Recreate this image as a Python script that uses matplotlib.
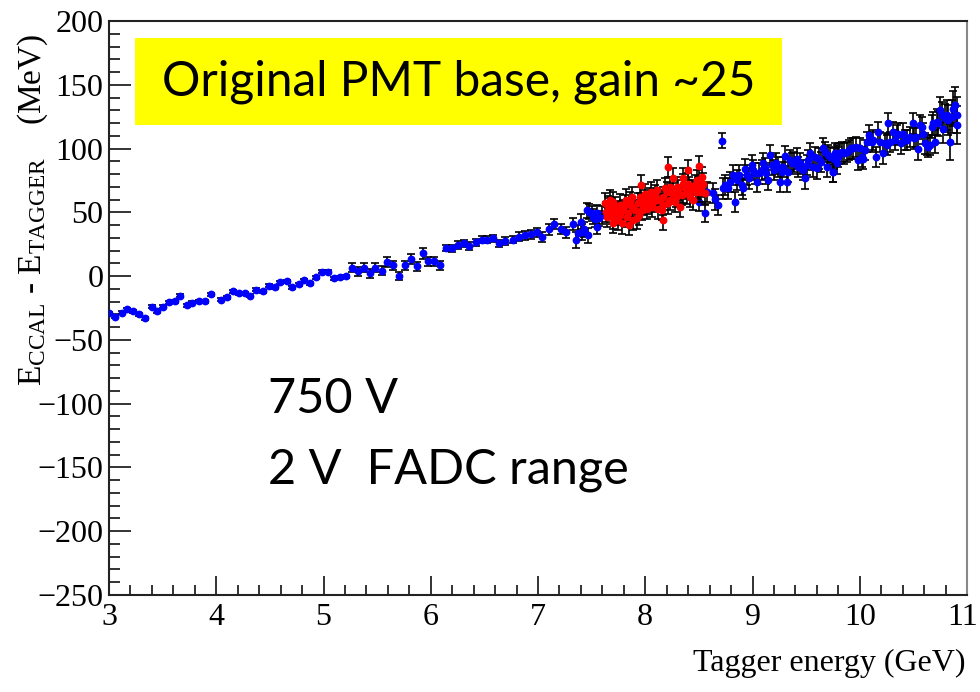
import numpy as np
import matplotlib.pyplot as plt
from matplotlib.patches import Rectangle
from matplotlib.ticker import MultipleLocator, FuncFormatter

plt.rcParams['mathtext.fontset'] = 'custom'
plt.rcParams['mathtext.rm'] = 'Liberation Serif'
plt.rcParams['mathtext.it'] = 'Liberation Serif:italic'

# --- low-energy scan (blue, small errors) ---
blue_low_e = [3.000, 3.056, 3.118, 3.165, 3.227, 3.283, 3.336, 3.398, 3.451, 3.507,
              3.556, 3.619, 3.665, 3.724, 3.777, 3.839, 3.898, 3.948, 4.047, 4.097,
              4.159, 4.209, 4.265, 4.318, 4.374, 4.436, 4.489, 4.548, 4.597, 4.657,
              4.706, 4.768, 4.818, 4.874, 4.930, 4.986, 5.045, 5.101, 5.157, 5.207,
              5.269, 5.322, 5.378, 5.430, 5.480, 5.542, 5.589, 5.651, 5.704, 5.760,
              5.813, 5.872, 5.928, 5.977, 6.033, 6.089, 6.142, 6.198, 6.251, 6.310,
              6.360, 6.422, 6.475, 6.528, 6.584, 6.640, 6.692, 6.764, 6.820, 6.882,
              6.932, 6.988, 7.040, 7.100, 7.152, 7.212, 7.261, 7.324]
blue_low_v = [-29.3, -31.9, -28.7, -26.1, -27.4, -29.8, -33.2, -24.0, -27.4, -24.0,
              -20.6, -19.6, -15.4, -23.0, -20.9, -19.6, -19.6, -14.4, -18.5, -16.5,
              -11.8, -13.3, -13.3, -15.4, -10.7, -12.0, -7.6, -8.9, -5.0, -3.9,
              -8.9, -6.5, -3.4, -5.5, -0.8, 3.4, 3.4, -1.8, -1.0, 0.0,
              6.5, 3.7, 6.5, 2.1, 6.5, 4.2, 11.2, 8.6, 0.0, 8.6,
              13.3, 7.6, 17.8, 11.8, 11.8, 8.6, 22.2, 21.7, 24.6, 25.6,
              23.8, 26.4, 28.7, 28.7, 29.5, 25.6, 27.7, 28.7, 30.8, 32.1,
              32.9, 34.2, 30.8, 36.6, 40.8, 37.1, 34.2, 40.8]
blue_low_err = [1.2, 1.2, 1.2, 1.2, 1.2, 1.2, 1.2, 1.2, 1.2, 1.2,
                1.2, 1.2, 1.2, 1.2, 1.2, 1.2, 1.2, 1.2, 1.2, 1.2,
                1.2, 1.2, 1.2, 1.2, 1.2, 1.2, 1.2, 1.2, 1.2, 1.2,
                1.2, 1.2, 1.2, 1.2, 1.2, 1.2, 1.2, 1.2, 1.2, 1.2,
                3.5, 3.5, 3.5, 3.5, 3.5, 3.5, 4.0, 3.5, 3.0, 3.5,
                4.0, 3.5, 4.0, 3.5, 3.5, 3.5, 2.5, 3.0, 3.0, 3.0,
                3.0, 3.0, 3.0, 3.0, 3.0, 3.0, 3.0, 3.0, 3.5, 3.5,
                3.5, 3.5, 4.0, 4.0, 4.0, 4.0, 4.0, 5.0]

# --- dense region (blue) ---
blue_mid_e = [7.354, 7.376, 7.398, 7.407, 7.429, 7.454, 7.469, 7.479, 7.500, 7.516,
              7.531, 7.547, 7.553, 7.572, 7.600, 7.750, 7.950, 8.150, 8.350, 8.500]
blue_mid_v = [28.2, 34.0, 42.6, 34.7, 36.6, 51.7, 32.1, 50.4, 49.1, 46.5,
              44.4, 49.6, 38.7, 45.2, 48.0, 52.0, 58.0, 60.0, 64.0, 58.0]
blue_mid_err = [6, 6, 6, 6, 6, 6, 6, 6, 6, 6, 6, 6, 6, 6, 7, 7, 7, 7, 7, 7]

blue_hi_e = [8.557, 8.573, 8.629, 8.650, 8.682, 8.713, 8.728, 8.744, 8.775, 8.790,
             8.821, 8.837, 8.859, 8.877, 8.899, 8.915, 8.930, 8.946, 8.970, 8.992,
             9.008, 9.023, 9.045, 9.064, 9.085, 9.101, 9.117, 9.126, 9.148, 9.163,
             9.179, 9.200, 9.219, 9.241, 9.256, 9.272, 9.288, 9.303, 9.319, 9.334,
             9.350, 9.365, 9.387, 9.412, 9.427, 9.443, 9.468, 9.490, 9.505, 9.521,
             9.536, 9.561, 9.583, 9.598, 9.623, 9.636, 9.660, 9.676, 9.692, 9.707,
             9.723, 9.748, 9.769, 9.785, 9.800]
blue_hi_v = [49.1, 66.1, 65.3, 60.1, 55.7, 106.1, 68.7, 71.3, 68.7, 74.0,
             79.2, 58.3, 75.3, 79.2, 71.3, 68.7, 83.6, 79.2, 76.6, 87.0,
             83.1, 80.5, 74.0, 80.5, 83.1, 88.3, 84.4, 80.5, 75.3, 94.9,
             87.0, 83.1, 88.3, 85.7, 74.0, 81.8, 85.7, 94.1, 74.0, 81.8,
             90.9, 88.3, 89.6, 92.2, 85.7, 88.3, 83.1, 76.6, 87.0, 90.9,
             96.2, 85.7, 93.6, 84.4, 92.2, 89.6, 100.1, 97.5, 85.7, 94.9,
             93.6, 81.8, 96.2, 88.3, 93.6]
blue_hi_err = [7, 8, 8, 8, 8, 6, 8, 8, 8, 8,
               8, 8, 8, 8, 8, 8, 8, 8, 8, 8,
               8, 8, 8, 8, 8, 8, 8, 8, 8, 8,
               8, 8, 8, 8, 8, 8, 8, 8, 8, 8,
               8, 8, 8, 8, 8, 8, 8, 8, 8, 8,
               8, 8, 8, 8, 8, 8, 8, 8, 8, 8,
               8, 8, 8, 8, 8]

blue_top_e = [9.747, 9.760, 9.785, 9.810, 9.831, 9.853, 9.878, 9.903, 9.915, 9.940,
              9.965, 9.987, 10.002, 10.018, 10.033, 10.049, 10.071, 10.089, 10.111, 10.127,
              10.151, 10.173, 10.189, 10.214, 10.235, 10.251, 10.267, 10.282, 10.313, 10.329,
              10.344, 10.360, 10.382, 10.400, 10.422, 10.444, 10.468, 10.493, 10.506, 10.524,
              10.546, 10.562, 10.577, 10.593, 10.608, 10.624, 10.639, 10.655, 10.670, 10.686,
              10.702, 10.717, 10.733, 10.748, 10.764, 10.779, 10.795, 10.810, 10.826, 10.841,
              10.857, 10.873, 10.888, 10.904, 10.910]
blue_top_v = [81.8, 92.2, 94.8, 96.2, 97.5, 96.2, 97.5, 98.8, 100.1, 100.1,
              101.4, 90.9, 100.1, 93.5, 92.2, 98.8, 105.3, 110.5, 105.3, 106.6,
              93.5, 113.1, 105.3, 96.2, 104.0, 102.7, 119.7, 105.3, 113.1, 106.6,
              110.5, 111.8, 104.0, 111.8, 106.6, 106.6, 109.2, 119.7, 107.9, 109.2,
              99.3, 118.4, 117.1, 111.8, 104.0, 102.7, 101.4, 102.7, 117.1, 119.7,
              105.3, 121.0, 119.7, 130.1, 126.2, 115.7, 123.6, 126.2, 122.3, 105.3,
              124.9, 131.4, 134.0, 118.4, 126.2]
blue_top_err = [8, 8, 8, 8, 8, 8, 8, 8, 8, 8,
                8, 8, 8, 8, 8, 8, 8, 8, 8, 8,
                8, 8, 8, 8, 8, 8, 8, 8, 8, 8,
                8, 8, 8, 8, 8, 8, 8, 8, 8, 8,
                8, 8, 8, 8, 8, 8, 8, 8, 9, 9,
                9, 10, 10, 10, 10, 11, 11, 12, 12, 14,
                13, 14, 14, 15, 14]

# --- red runs ---
red_e = [7.625, 7.634, 7.646, 7.665, 7.671, 7.687, 7.702, 7.718, 7.734, 7.749,
         7.765, 7.780, 7.796, 7.811, 7.827, 7.842, 7.858, 7.873, 7.889, 7.905,
         7.920, 7.936, 7.951, 7.960, 7.967, 7.982, 7.998, 8.013, 8.029, 8.044,
         8.060, 8.075, 8.091, 8.106, 8.122, 8.138, 8.153, 8.162, 8.169, 8.184,
         8.200, 8.215, 8.231, 8.246, 8.262, 8.277, 8.293, 8.309, 8.324, 8.340,
         8.355, 8.371, 8.386, 8.402, 8.417, 8.433, 8.448, 8.464, 8.479, 8.495,
         8.511, 8.526, 8.541, 8.557, 7.650, 7.700, 7.760, 7.820, 7.880, 7.940,
         8.000, 8.050, 8.110, 8.170, 8.230, 8.290, 8.350, 8.410, 8.470, 8.520,
         7.700, 7.850, 8.212, 8.396, 8.500]
red_v = [57.0, 50.4, 46.5, 53.0, 59.6, 49.1, 45.2, 54.4, 50.4, 43.9,
         47.8, 41.3, 51.7, 55.7, 46.5, 49.1, 58.3, 54.4, 43.9, 51.7,
         45.2, 57.0, 62.2, 71.3, 51.7, 55.7, 59.6, 53.0, 57.0, 60.9,
         54.4, 58.3, 63.5, 67.4, 53.0, 59.6, 51.7, 43.9, 62.2, 68.7,
         66.1, 57.0, 59.6, 64.8, 76.6, 58.3, 70.0, 67.4, 54.4, 63.5,
         76.6, 68.7, 64.8, 72.6, 62.2, 67.4, 59.6, 71.3, 75.3, 68.7,
         66.1, 77.9, 72.6, 64.8, 55.0, 58.0, 56.0, 60.0, 62.0, 48.0,
         64.0, 66.0, 60.0, 56.0, 70.0, 62.0, 72.0, 70.0, 66.0, 70.0,
         42.0, 40.0, 85.7, 83.0, 86.0]
red_err = [8, 8, 8, 8, 8, 8, 8, 8, 8, 8,
           8, 8, 8, 8, 8, 8, 8, 8, 8, 8,
           8, 8, 8, 8, 8, 8, 8, 8, 8, 8,
           8, 8, 8, 8, 8, 8, 8, 8, 8, 8,
           8, 8, 8, 8, 8, 8, 8, 8, 8, 8,
           8, 8, 8, 8, 8, 8, 8, 8, 8, 8,
           8, 8, 8, 8, 8, 8, 8, 8, 8, 8,
           8, 8, 8, 8, 8, 8, 8, 8, 8, 8,
           8, 8, 8, 8, 8]

fig = plt.figure(figsize=(9.8, 6.92), dpi=100)
ax = fig.add_axes([109 / 980, 97 / 692, 858 / 980, 574 / 692])

ebkw = dict(fmt='o', ms=4.6, ecolor='black', elinewidth=1.2, capsize=3, capthick=1.2)
for e, v, err in [(blue_low_e, blue_low_v, blue_low_err),
                  (blue_mid_e, blue_mid_v, blue_mid_err),
                  (blue_hi_e, blue_hi_v, blue_hi_err),
                  (blue_top_e, blue_top_v, blue_top_err)]:
    ax.errorbar(e, v, yerr=err, color='#0000ff', mec='#0000ff', zorder=3, **ebkw)
ax.errorbar(red_e, red_v, yerr=red_err, color='#ff0000', mec='#ff0000', zorder=4, **ebkw)

ax.set_xlim(3, 11)
ax.set_ylim(-250, 200)
ax.xaxis.set_major_locator(MultipleLocator(1))
ax.xaxis.set_minor_locator(MultipleLocator(0.2))
# the "11" at the right edge is drawn separately so it stays on the canvas
ax.xaxis.set_major_formatter(FuncFormatter(lambda x, pos: '' if x > 10.5 else f'{x:g}'))
ax.yaxis.set_major_locator(MultipleLocator(50))
ax.yaxis.set_minor_locator(MultipleLocator(10))
ax.tick_params(which='both', direction='in', top=False, right=False,
               color='#333333', width=1.4, labelsize=23)
ax.tick_params(axis='y', which='major', length=16, pad=4)
ax.tick_params(axis='y', which='minor', length=7.7)
ax.tick_params(axis='x', which='major', length=13.7, pad=6)
ax.tick_params(axis='x', which='minor', length=7.2)
for lab in ax.get_xticklabels() + ax.get_yticklabels():
    lab.set_fontfamily('Liberation Serif')
fig.text(963 / 980, 1 - 603 / 692, '11', ha='center', va='top',
         fontsize=23, fontfamily='Liberation Serif')
for side in ['left', 'bottom', 'top']:
    ax.spines[side].set_linewidth(1.5)
    ax.spines[side].set_color('#222222')
ax.spines['right'].set_linewidth(1.5)
ax.spines['right'].set_color('#888888')

fig.text(33 / 980, 1 - 210 / 692,
         r'$\mathrm{E_{CCAL}}$ - $\mathrm{E_{TAGGER}}$    (MeV)',
         rotation=90, ha='center', va='center', fontsize=24,
         fontfamily='Liberation Serif')
fig.text(965 / 980, 1 - 663 / 692, 'Tagger energy (GeV)', ha='right', va='center',
         fontsize=23, fontfamily='Liberation Serif')

ax.add_patch(Rectangle((135 / 980, 1 - 125 / 692), 647 / 980, 87 / 692,
                       transform=fig.transFigure, facecolor='#ffff00',
                       edgecolor='none', zorder=5, clip_on=False))
fig.text(459 / 980, 1 - 82 / 692, 'Original PMT base, gain ~25', ha='center', va='center',
         fontsize=34.5, fontfamily='Lato', zorder=6)
fig.text(268 / 980, 1 - 413 / 692, '750 V', ha='left', va='baseline',
         fontsize=35, fontfamily='Lato')
fig.text(268 / 980, 1 - 483 / 692, '2 V  FADC range', ha='left', va='baseline',
         fontsize=35, fontfamily='Lato')

fig.savefig('out.png', dpi=100)
